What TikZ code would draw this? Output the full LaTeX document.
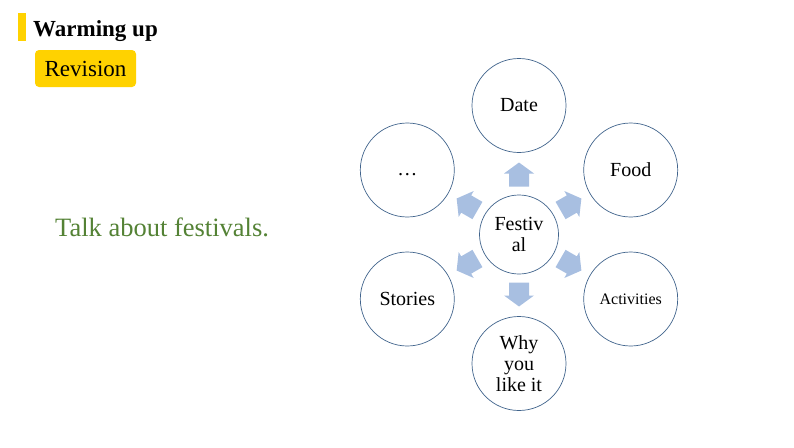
\documentclass[tikz,border=0pt]{standalone}
\usepackage{fontspec}
\setmainfont{Liberation Serif}
\newfontfamily\slidefont{Liberation Serif}
\usetikzlibrary{positioning,calc}

\definecolor{tagyellow}{RGB}{255,210,0}
\definecolor{talkgreen}{RGB}{84,130,53}
\definecolor{ringblue}{RGB}{65,100,140}
\definecolor{arrowblue}{RGB}{168,191,225}

\tikzset{
  bubble/.style={circle, draw=ringblue, line width=0.7pt, minimum size=94pt,
    inner sep=0pt, align=center, font=\slidefont\fontsize{20}{21}\selectfont},
  hub/.style={bubble, minimum size=79pt},
}

\begin{document}
\begin{tikzpicture}[x=1pt,y=-1pt]
    \useasboundingbox (0,0) rectangle (794,447);
    % heading
    \fill[tagyellow] (18,13) rectangle (26,41);
    \node[anchor=base west, inner sep=0pt, font=\slidefont\fontsize{23}{24}\selectfont\bfseries] (title) at (33,36) {Warming up};
    \node[fill=tagyellow, rounded corners=4pt, minimum width=101pt, minimum height=37pt, inner sep=0pt,
          font=\slidefont\fontsize{23}{24}\selectfont] (rev) at (85.5,68.5) {Revision};
    \node[anchor=base west, inner sep=0pt, text=talkgreen, font=\slidefont\fontsize{26.5}{28}\selectfont] (talk) at (55,236) {Talk about festivals.};

    % radial map
    \node[hub] (fest) at (519,234.5) {Festiv\\al};
    \node[bubble] (date) at (519,105.5) {Date};
    \node[bubble] (food) at (630.7,170) {Food};
    \node[bubble, font=\slidefont\fontsize{16}{18}\selectfont] (act) at (630.7,299) {Activities};
    \node[bubble] (why) at (519,363.5) {Why\\you\\like it};
    \node[bubble] (stor) at (407.3,299) {Stories};
    \node[bubble, text height=10pt, text depth=0pt] (more) at (407.3,170) {\dots};

    \foreach \a in {90,30,-30,-90,-150,150}
        \fill[arrowblue, shift={(fest)}, rotate=\a]
            (48,-10) -- (61,-10) -- (61,-15) -- (72,0) -- (61,15) -- (61,10) -- (48,10) -- cycle;
\end{tikzpicture}
\end{document}
